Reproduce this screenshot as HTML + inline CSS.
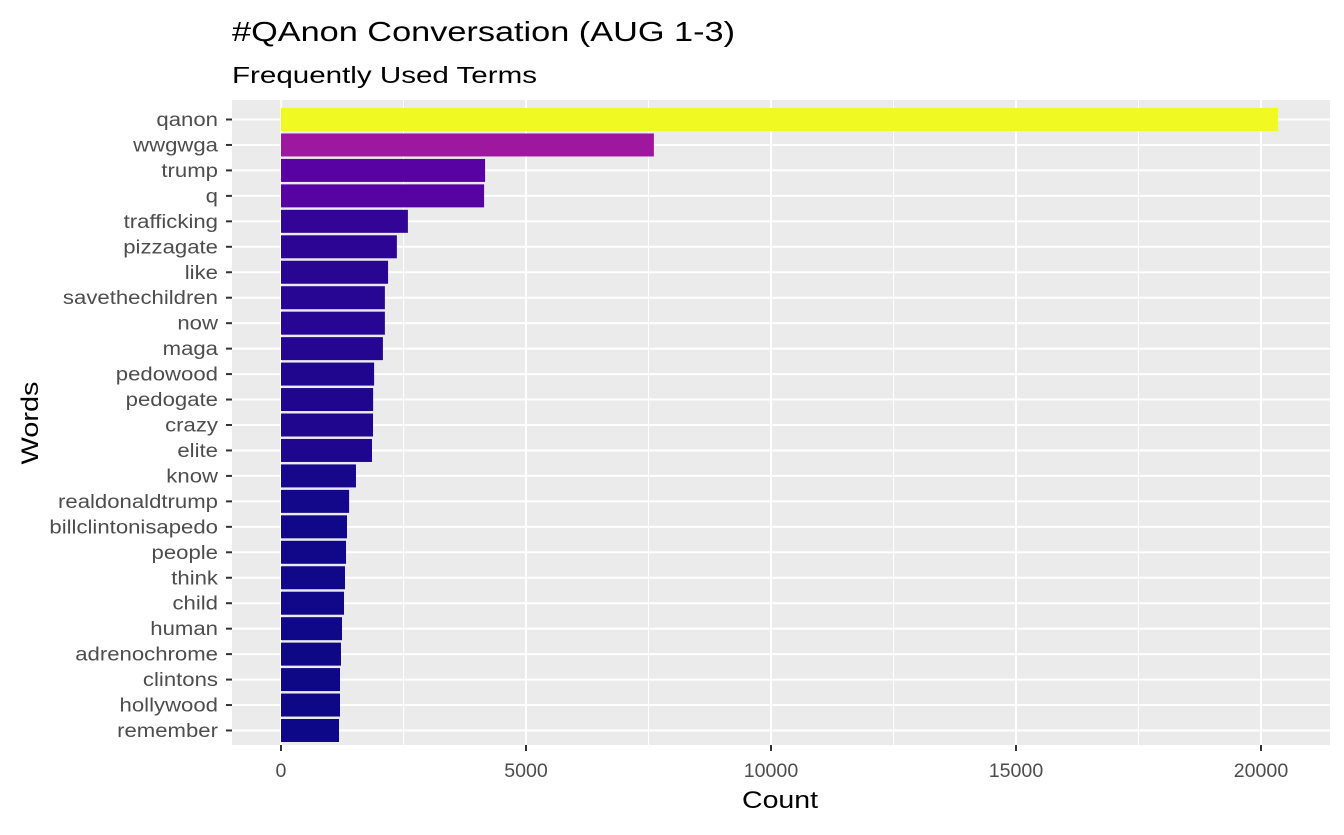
<!DOCTYPE html>
<html><head><meta charset="utf-8"><style>
body{margin:0;background:#fff;font-family:"Liberation Sans",sans-serif}
</style></head><body>
<svg id="c" width="1344" height="830" xmlns="http://www.w3.org/2000/svg" font-family="Liberation Sans, sans-serif">
<text x="232" y="41" font-size="28" textLength="503" lengthAdjust="spacingAndGlyphs" fill="#000">#QAnon Conversation (AUG 1-3)</text>
<text x="232" y="83" font-size="23" textLength="305" lengthAdjust="spacingAndGlyphs" fill="#000">Frequently Used Terms</text>
<rect x="232" y="100" width="1098" height="645" fill="#EBEBEB"/>
<g id="grid"></g><g id="bars"></g><g id="axes"></g>
<text x="780" y="808" font-size="24" textLength="76" lengthAdjust="spacingAndGlyphs" text-anchor="middle" fill="#000">Count</text>
<text transform="translate(38,423) rotate(-90)" font-size="24" textLength="83" lengthAdjust="spacingAndGlyphs" text-anchor="middle" fill="#000">Words</text>
</svg>
<script>
const words=["qanon","wwgwga","trump","q","trafficking","pizzagate","like","savethechildren","now","maga","pedowood","pedogate","crazy","elite","know","realdonaldtrump","billclintonisapedo","people","think","child","human","adrenochrome","clintons","hollywood","remember"];
const counts=[20350,7610,4165,4145,2590,2365,2185,2120,2120,2080,1900,1880,1878,1857,1530,1390,1347,1327,1306,1286,1245,1224,1204,1204,1184];
const xTicks=[0,5000,10000,15000,20000];
const xMinor=[2500,7500,12500,17500];
const NS="http://www.w3.org/2000/svg";
const x=v=>281+v*0.049;
const y=i=>119.5+i*(730.5-119.5)/(words.length-1);
const plasma=["#0d0887","#46039f","#7201a8","#9c179e","#bd3786","#d8576b","#ed7953","#fb9f3a","#fdca26","#f0f921"];
function col(v){const mn=Math.min(...counts),mx=Math.max(...counts);let t=(v-mn)/(mx-mn)*(plasma.length-1);const i=Math.min(Math.floor(t),plasma.length-2),f=t-i;
const a=plasma[i],b=plasma[i+1];const p=(s,k)=>parseInt(s.substr(k,2),16);let r=[1,3,5].map(k=>Math.round(p(a,k)+(p(b,k)-p(a,k))*f));return `rgb(${r.join(",")})`;}
function mk(tag,attrs,parent){const e=document.createElementNS(NS,tag);for(const k in attrs)e.setAttribute(k,attrs[k]);document.getElementById(parent).appendChild(e);return e;}
function stretch(t,f){const L=t.getComputedTextLength();t.setAttribute("textLength",L*f);t.setAttribute("lengthAdjust","spacingAndGlyphs");}
xMinor.forEach(v=>{const l=mk("line",{x1:x(v),x2:x(v),y1:100,y2:745,stroke:"#fff","stroke-width":1},"grid");

});
xTicks.forEach(v=>{const l=mk("line",{x1:x(v),x2:x(v),y1:100,y2:745,stroke:"#fff","stroke-width":2},"grid");


const t=mk("line",{x1:x(v),x2:x(v),y1:745,y2:751,stroke:"#333","stroke-width":2},"axes");


const tx=mk("text",{x:x(v),y:777,"font-size":19,"text-anchor":"middle",fill:"#4D4D4D"},"axes");tx.textContent=v;


stretch(tx,1.03);});
words.forEach((w,i)=>{const l=mk("line",{x1:232,x2:1330,y1:y(i),y2:y(i),stroke:"#fff","stroke-width":2},"grid");


const r=mk("rect",{x:x(0),y:y(i)-11.5,width:x(counts[i])-x(0),height:23,fill:col(counts[i])},"bars");


const t=mk("line",{x1:226,x2:232,y1:y(i),y2:y(i),stroke:"#333","stroke-width":2},"axes");


const tx=mk("text",{x:218,y:y(i)+6.5,"font-size":19,"text-anchor":"end",fill:"#4D4D4D"},"axes");tx.textContent=w;


stretch(tx,1.165);});
</script>
</body></html>
